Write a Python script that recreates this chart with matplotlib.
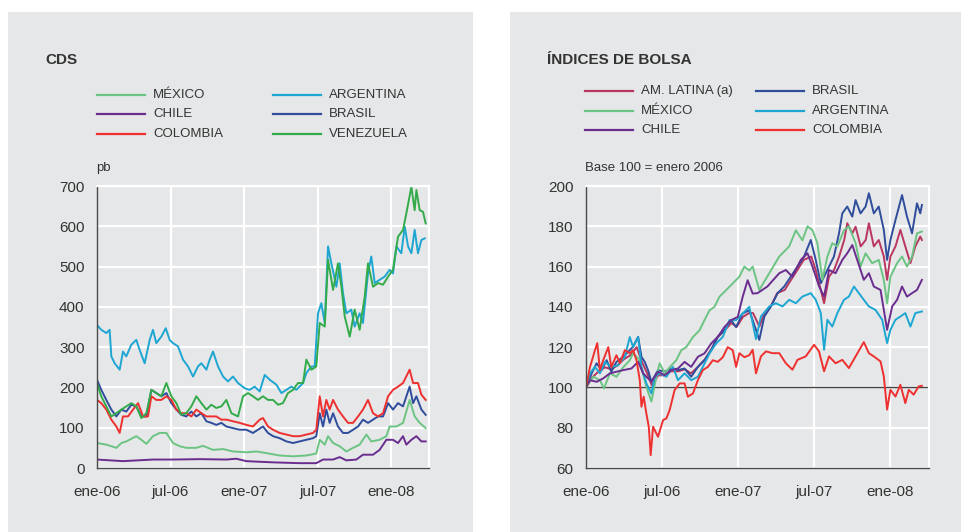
import matplotlib
matplotlib.use("Agg")
import matplotlib.pyplot as plt
from matplotlib.lines import Line2D
from matplotlib.patches import Rectangle

plt.rcParams['font.family'] = ['Liberation Sans', 'DejaVu Sans']

# ---- data (months since January 2006) ----
tick_months = [0, 6, 12, 18, 24]
tick_labels = ["ene-06", "jul-06", "ene-07", "jul-07", "ene-08"]

# CDS, pb
cds_arg_m = [0, 0.35, 0.76, 1.03, 1.17, 1.44, 1.85, 2.12, 2.39, 2.80, 3.21, 3.48, 3.89, 4.30, 4.57, 4.84,
             5.25, 5.61, 5.93, 6.20, 6.61, 7.02, 7.43, 7.84, 8.24, 8.52, 8.93, 9.20, 9.47, 9.88, 10.29,
             10.69, 11.10, 11.51, 12.05, 12.46, 12.87, 13.28, 13.69, 14.10, 14.64, 15.05, 15.46, 15.86,
             16.27, 16.82, 17.09, 17.50, 17.77, 18.04, 18.31, 18.59, 18.86, 19.13, 19.54, 19.81, 20.08,
             20.35, 20.76, 21.03, 21.44, 21.71, 22.12, 22.39, 22.67, 23.07, 23.48, 23.89, 24.16, 24.44,
             24.84, 25.12, 25.39, 25.66, 25.93, 26.20, 26.48, 26.75]
cds_arg = [355, 343, 335, 343, 277, 260, 244, 289, 277, 306, 318, 293, 260, 318, 343, 310,
           326, 347, 318, 310, 302, 269, 252, 227, 252, 260, 244, 269, 289, 252, 227,
           215, 227, 211, 198, 194, 202, 190, 231, 219, 207, 186, 194, 202,
           194, 211, 236, 252, 252, 384, 409, 360, 550, 508, 450, 508, 434,
           384, 393, 351, 384, 360, 483, 525, 459, 467, 475, 492, 483, 550,
           533, 599, 550, 533, 591, 533, 566, 570]

cds_ven_m = [0, 0.35, 0.76, 1.17, 1.58, 1.99, 2.39, 2.80, 3.21, 3.62, 4.03, 4.44, 4.84, 5.25, 5.66, 6.07,
             6.48, 6.88, 7.29, 7.70, 8.11, 8.52, 8.93, 9.33, 9.74, 10.15, 10.56, 10.97, 11.51, 11.92,
             12.33, 12.73, 13.14, 13.55, 13.96, 14.37, 14.78, 15.18, 15.59, 16.0, 16.41, 16.82, 17.09,
             17.50, 17.90, 18.18, 18.59, 18.86, 19.27, 19.67, 19.95, 20.22, 20.63, 21.03, 21.44, 21.85,
             22.12, 22.53, 22.94, 23.35, 23.76, 24.16, 24.57, 24.98, 25.25, 25.66, 25.93, 26.07, 26.34,
             26.61, 26.83]
cds_ven = [211, 178, 153, 128, 136, 145, 153, 161, 153, 124, 136, 194, 186, 178, 211, 178,
           161, 132, 136, 153, 178, 161, 145, 157, 149, 153, 169, 136, 128, 178,
           186, 178, 169, 178, 169, 169, 157, 161, 186, 194, 211, 211, 269,
           244, 252, 360, 351, 517, 442, 508, 450, 376, 326, 393, 343, 425,
           508, 450, 459, 455, 475, 492, 574, 591, 632, 698, 640, 690, 640,
           636, 607]

cds_bra_m = [0, 0.35, 0.76, 1.17, 1.58, 1.99, 2.39, 2.80, 3.21, 3.62, 4.03, 4.44, 4.84, 5.25, 5.66, 6.07,
             6.48, 6.88, 7.29, 7.70, 8.11, 8.52, 8.93, 9.33, 9.74, 10.15, 10.56, 11.10, 11.65, 12.19,
             12.73, 13.14, 13.55, 13.96, 14.37, 14.91, 15.46, 16.0, 16.54, 17.09, 17.63, 17.90, 18.18,
             18.45, 18.72, 18.99, 19.27, 19.67, 20.08, 20.49, 20.90, 21.31, 21.71, 22.12, 22.53, 22.94,
             23.35, 23.76, 24.16, 24.57, 24.98, 25.52, 25.80, 26.07, 26.48, 26.83]
cds_bra = [219, 194, 169, 145, 128, 145, 140, 157, 153, 128, 128, 194, 186, 178, 186, 161,
           145, 132, 128, 140, 128, 136, 116, 112, 107, 112, 103, 99, 95, 95,
           87, 95, 103, 87, 79, 74, 66, 62, 66, 70, 74, 79, 136,
           103, 145, 112, 136, 103, 87, 87, 95, 103, 120, 112, 120, 128,
           128, 161, 145, 161, 153, 202, 161, 178, 145, 132]

cds_col_m = [0, 0.35, 0.76, 1.17, 1.58, 1.85, 2.12, 2.53, 2.94, 3.35, 3.76, 4.16, 4.44, 4.84, 5.25, 5.66,
             6.07, 6.48, 6.88, 7.29, 7.70, 8.11, 8.52, 8.93, 9.33, 9.74, 10.15, 10.56, 11.10, 11.65,
             12.19, 12.73, 13.28, 13.55, 13.96, 14.37, 14.91, 15.46, 16.0, 16.54, 17.09, 17.63, 17.90,
             18.18, 18.45, 18.72, 18.99, 19.27, 19.67, 20.08, 20.49, 20.90, 21.31, 21.71, 22.12, 22.53,
             22.94, 23.35, 23.76, 24.16, 24.57, 24.98, 25.52, 25.80, 26.20, 26.48, 26.83]
cds_col = [169, 161, 145, 120, 103, 87, 128, 128, 145, 161, 128, 128, 178, 169, 169, 178,
           169, 145, 136, 136, 128, 145, 136, 128, 128, 128, 120, 120, 116, 112,
           107, 103, 120, 124, 103, 95, 87, 83, 79, 79, 83, 87, 95,
           178, 128, 169, 145, 169, 145, 128, 112, 112, 128, 145, 169, 136,
           128, 136, 178, 194, 202, 211, 244, 211, 211, 182, 169]

cds_mex_m = [0, 0.76, 1.58, 1.99, 2.39, 3.21, 3.62, 4.03, 4.57, 5.12, 5.66, 6.20, 6.75, 7.29, 8.11, 8.65,
             9.47, 10.29, 11.10, 12.19, 13.01, 13.82, 14.91, 16.0, 17.09, 17.90, 18.18, 18.59, 18.86,
             19.27, 19.81, 20.35, 20.90, 21.44, 21.99, 22.39, 23.07, 23.62, 23.89, 24.44, 24.98, 25.52,
             25.93, 26.34, 26.83]
cds_mex = [62, 58, 50, 62, 66, 79, 70, 60, 79, 87, 87, 62, 54, 50, 50, 55,
           45, 47, 41, 39, 41, 37, 31, 29, 31, 36, 70, 58, 79,
           62, 54, 41, 50, 58, 83, 66, 70, 79, 103, 103, 112, 169,
           128, 112, 99]

cds_chi_m = [0, 2.12, 4.57, 6.20, 8.38, 10.56, 11.37, 12.19, 14.37, 16.54, 17.90, 18.45, 19.27, 19.81,
             20.35, 21.17, 21.71, 22.53, 23.07, 23.62, 24.16, 24.57, 24.98, 25.25, 25.66, 26.07, 26.48,
             26.83]
cds_chi = [21, 17, 21, 21, 22, 21, 23, 17, 14, 12, 12, 21, 21, 27,
           19, 21, 33, 33, 45, 70, 70, 62, 79, 58, 70, 79, 66,
           66]

# Stock indices, base 100 = January 2006
bol_col_m = [0, 0.31, 0.71, 0.89, 1.1, 1.36, 1.76, 2.0, 2.4, 2.68, 3.07, 3.46, 3.72, 3.99, 4.25, 4.38,
             4.56, 4.77, 4.96, 5.11, 5.30, 5.69, 6.09, 6.35, 6.61, 7.0, 7.4, 7.79, 8.05, 8.45, 8.84,
             9.23, 9.63, 10.02, 10.41, 10.81, 11.2, 11.59, 11.86, 12.12, 12.51, 12.9, 13.17, 13.43,
             13.82, 14.22, 14.74, 15.27, 15.79, 16.31, 16.71, 17.36, 18.02, 18.41, 18.81, 19.2, 19.72,
             20.25, 20.77, 21.3, 21.95, 22.35, 22.74, 23.27, 23.53, 23.79, 24.05, 24.45, 24.84, 25.23,
             25.5, 25.89, 26.28, 26.54]
bol_col = [100, 110, 118.5, 122, 108.6, 113.5, 120, 110, 116, 112, 118.5, 117, 118.5, 113.5, 103.6, 90.4,
           95.4, 87, 80.5, 66.4, 80.5, 75.5, 83.8, 84.6, 88.8, 98.7, 102, 102, 95.4, 97, 103.6,
           108.6, 110.2, 113.5, 112.7, 115, 120, 118.5, 110.2, 117, 115, 116, 118.7, 107,
           115.4, 117.9, 117, 117, 112, 108.8, 113.7, 115.4, 121.2, 117.9, 108, 115.4, 112,
           113.7, 109.6, 115.4, 122.5, 117, 115.4, 112.9, 105.5, 89, 98.8, 95.5, 101.3, 92.2,
           98.8, 96.4, 100.5, 100.8]

bol_mex_m = [0, 0.58, 1.1, 1.42, 1.89, 2.41, 2.94, 3.46, 3.72, 4.12, 4.38, 4.77, 5.17, 5.56, 5.82, 6.22,
             6.61, 7.13, 7.53, 7.92, 8.45, 8.97, 9.36, 9.76, 10.15, 10.54, 11.07, 11.59, 12.12, 12.51,
             12.9, 13.17, 13.69, 14.48, 15.27, 16.05, 16.58, 17.1, 17.5, 17.9, 18.28, 18.68, 19.07,
             19.46, 19.86, 20.38, 20.77, 21.3, 21.69, 22.09, 22.61, 23.13, 23.53, 23.79, 24.05, 24.58,
             24.97, 25.36, 25.76, 26.15, 26.54]
bol_mex = [100, 105.3, 103.6, 99.5, 107, 105.3, 110, 113.5, 117, 114.4, 110, 100.3, 93, 105.3, 112, 107,
           110, 113.5, 118.5, 120, 125, 128.4, 133.4, 138.3, 140, 145, 148.3, 151.6, 155, 160,
           158, 160, 148.4, 156.7, 165, 170, 178, 173, 180, 178, 171.6, 153.4, 165,
           171.6, 170, 178, 180, 171.6, 160, 166.6, 161.7, 163.3, 153.4, 141.8, 155, 161.7,
           165, 160, 165, 176.5, 177.4]

bol_chi_m = [0, 0.31, 0.84, 1.36, 1.89, 2.41, 2.94, 3.59, 4.12, 4.51, 4.9, 5.17, 5.69, 6.22, 6.74, 7.27,
             7.79, 8.31, 8.84, 9.36, 9.89, 10.41, 10.94, 11.46, 11.99, 12.38, 12.77, 13.17, 13.55, 14.33,
             15.27, 15.79, 16.3, 16.97, 17.5, 17.89, 18.42, 18.81, 19.2, 19.72, 20.25, 20.64, 21.04,
             21.43, 21.95, 22.35, 22.74, 23.27, 23.79, 24.19, 24.58, 24.97, 25.36, 25.76, 26.15, 26.54]
bol_chi = [100, 103.6, 102.8, 104.5, 107, 107.8, 108.6, 109.4, 112.7, 107, 104.5, 102.8, 107.8, 106.1, 108.6, 109.4,
           112.7, 110.2, 115.2, 116.9, 121.8, 125.1, 130, 133.4, 135, 145, 153.2, 146.6, 146.8, 150.1,
           156.7, 158.3, 155, 163.3, 166.6, 160, 150.1, 145.1, 158.3, 156.7, 163.3, 166.6, 170.7,
           163.3, 153.4, 156.7, 150.1, 148.4, 128.6, 140.2, 143.5, 150.1, 145.1, 146.8, 148.4, 153.4]

bol_arg_m = [0, 0.31, 0.71, 1.1, 1.5, 2.0, 2.54, 3.07, 3.46, 3.72, 4.12, 4.38, 4.77, 5.17, 5.43, 5.82,
             6.35, 6.87, 7.27, 7.79, 8.31, 8.84, 9.23, 9.76, 10.28, 10.81, 11.33, 11.86, 12.38, 12.9,
             13.43, 13.82, 14.48, 15.0, 15.53, 16.05, 16.58, 17.1, 17.76, 18.15, 18.55, 18.81, 19.07,
             19.46, 19.86, 20.38, 20.77, 21.17, 21.56, 21.95, 22.35, 22.87, 23.4, 23.79, 24.05, 24.45,
             24.84, 25.23, 25.63, 26.02, 26.54]
bol_arg = [100, 107, 110.2, 107, 112.7, 110.2, 111, 115.2, 125, 120, 125, 110.2, 102, 97, 105.3, 107,
           105.3, 110.2, 103.6, 107, 103.6, 105.3, 110.2, 116.9, 121.8, 125.1, 133.4, 133.4, 136.7, 140,
           124, 135.2, 140.2, 141.8, 140.2, 143.5, 141.8, 145.1, 146.8, 143.5, 136.9, 118.7, 133.6,
           130.2, 136.9, 143.5, 145.1, 150.1, 146.8, 143.5, 140.2, 138.5, 133.6, 122, 128.6, 133.6,
           135.2, 136.9, 130.2, 136.9, 137.7]

bol_bra_m = [0, 0.45, 0.84, 1.23, 1.63, 2.0, 2.41, 2.94, 3.33, 3.72, 4.12, 4.38, 4.64, 4.9, 5.17, 5.69,
             6.22, 6.74, 7.27, 7.79, 8.31, 8.84, 9.36, 9.89, 10.41, 10.94, 11.46, 11.86, 12.38, 12.9,
             13.43, 13.69, 14.09, 14.61, 15.14, 15.66, 16.18, 16.71, 17.23, 17.76, 18.15, 18.55, 18.81,
             19.2, 19.59, 19.99, 20.25, 20.64, 21.04, 21.3, 21.69, 22.09, 22.35, 22.74, 23.13, 23.53,
             23.79, 24.05, 24.45, 24.97, 25.36, 25.76, 26.15, 26.41, 26.54]
bol_bra = [100, 107, 112, 108.6, 113.5, 107.8, 112.7, 115.2, 117.7, 120.2, 125.1, 115.2, 112.7, 108.6, 102.8, 108.6,
           107.8, 109.4, 108.6, 109.4, 105.3, 110.2, 113.5, 118.5, 125.1, 128.4, 133.4, 130, 136.7, 138.3,
           128.6, 123.6, 135.2, 140.2, 146.8, 150.1, 155, 160, 165, 173.2, 163.3, 151.7, 155,
           160, 165, 176.5, 186.4, 189.8, 184.8, 193, 186.4, 189.8, 196.4, 186.4, 189.8, 178.2,
           163.3, 173.2, 183.1, 195.5, 184.8, 176.5, 191.4, 186.4, 190.6]

bol_lat_m = [0, 0.5, 1.0, 1.5, 2.0, 2.5, 3.0, 3.5, 4.0, 4.4, 4.9, 5.2, 5.7, 6.2, 6.7, 7.3,
             7.8, 8.3, 8.8, 9.4, 9.9, 10.4, 10.9, 11.5, 11.9, 12.4, 12.9, 13.2, 13.7, 14.1, 14.6,
             15.1, 15.7, 16.2, 16.7, 17.2, 17.8, 18.15, 18.55, 18.81, 19.2, 19.6, 20.0, 20.4, 20.64,
             21.04, 21.3, 21.7, 22.1, 22.35, 22.74, 23.13, 23.53, 23.79, 24.05, 24.45, 24.84, 25.23,
             25.63, 26.02, 26.41, 26.54]
bol_lat = [100, 105, 108, 110, 109, 111, 114, 116, 120, 113, 106, 101, 106, 106, 108, 108,
           109, 107, 110, 114, 119, 125, 128, 132, 130, 135, 137, 136.9, 130.2, 136.9, 140.2,
           146.8, 148.4, 153.4, 158.3, 163.3, 165, 158.3, 148.4, 141.8, 155, 158.3, 165, 173.2, 181.5,
           176.5, 179.8, 170, 173.2, 181.5, 170, 173.2, 165, 153.4, 165, 170, 178.2, 170,
           161.7, 170, 174.9, 173.2]

# ---- colours ----
c_mex = "#6cc483"
c_arg = "#1ea6d2"
c_chi = "#6a2d8f"
c_bra = "#2f4d9c"
c_col = "#ee3030"
c_ven = "#34ab4a"
c_lat = "#b8365f"
bg = "#e6e7e8"
txt = "#333333"

W, H = 962, 532
fx = lambda x: x / W
fy = lambda y: 1 - y / H

fig = plt.figure(figsize=(W / 100, H / 100), dpi=100)
fig.patch.set_facecolor("white")
fig.patches.append(Rectangle((fx(8), 0), fx(473 - 8), 1 - 12 / H, transform=fig.transFigure,
                             facecolor=bg, edgecolor="none", zorder=-10))
fig.patches.append(Rectangle((fx(510), 0), fx(962 - 510), 1 - 12 / H, transform=fig.transFigure,
                             facecolor=bg, edgecolor="none", zorder=-10))

ax1 = fig.add_axes([fx(97), fy(468), fx(429 - 97), (468 - 186) / H])
ax2 = fig.add_axes([fx(586), fy(468), fx(929 - 586), (468 - 186) / H])


def style(ax, yticks):
    ax.set_zorder(2)
    ax.set_facecolor(bg)
    ax.set_xlim(0, 27.1)
    ax.set_ylim(yticks[0], yticks[-1])
    ax.set_yticks(yticks)
    ax.set_xticks(tick_months)
    ax.set_xticklabels(tick_labels)
    ax.grid(True, color="white", lw=1.6)
    ax.set_axisbelow(True)
    for s in ["top", "right"]:
        ax.spines[s].set_color("white")
        ax.spines[s].set_linewidth(1.6)
    for s in ["left", "bottom"]:
        ax.spines[s].set_color("#4a4a4a")
        ax.spines[s].set_linewidth(1.0)
    ax.tick_params(axis="both", length=0, labelsize=11, colors=txt)
    ax.tick_params(axis="y", pad=9)
    ax.tick_params(axis="x", pad=12)


style(ax1, list(range(0, 701, 100)))
style(ax2, list(range(60, 201, 20)))

lw = 1.4
ax1.plot(cds_chi_m, cds_chi, color=c_chi, lw=lw)
ax1.plot(cds_mex_m, cds_mex, color=c_mex, lw=lw)
ax1.plot(cds_bra_m, cds_bra, color=c_bra, lw=lw)
ax1.plot(cds_col_m, cds_col, color=c_col, lw=lw)
ax1.plot(cds_arg_m, cds_arg, color=c_arg, lw=lw)
ax1.plot(cds_ven_m, cds_ven, color=c_ven, lw=lw)

ax2.axhline(100, color="#444444", lw=1.0, zorder=1.5)
ax2.plot(bol_lat_m, bol_lat, color=c_lat, lw=lw)
ax2.plot(bol_bra_m, bol_bra, color=c_bra, lw=lw)
ax2.plot(bol_mex_m, bol_mex, color=c_mex, lw=lw)
ax2.plot(bol_arg_m, bol_arg, color=c_arg, lw=lw)
ax2.plot(bol_chi_m, bol_chi, color=c_chi, lw=lw)
ax2.plot(bol_col_m, bol_col, color=c_col, lw=lw)

# titles and notes
fig.text(fx(45), fy(60), "CDS", fontsize=11, fontweight="bold", color=txt, va="center")
fig.text(fx(547), fy(60), "ÍNDICES DE BOLSA", fontsize=11, fontweight="bold", color=txt, va="center")
fig.text(fx(96), fy(168), "pb", fontsize=9.5, color=txt, va="center")
fig.text(fx(585), fy(168), "Base 100 = enero 2006", fontsize=9.5, color=txt, va="center")


def legend_item(x0, y, color, label):
    fig.add_artist(Line2D([fx(x0), fx(x0 + 48)], [fy(y), fy(y)], transform=fig.transFigure,
                          color=color, lw=1.6))
    fig.text(fx(x0 + 56), fy(y), label, fontsize=9.5, color=txt, va="center")


legend_item(97, 95, c_mex, "MÉXICO")
legend_item(97, 114, c_chi, "CHILE")
legend_item(97, 134, c_col, "COLOMBIA")
legend_item(273, 95, c_arg, "ARGENTINA")
legend_item(273, 114, c_bra, "BRASIL")
legend_item(273, 134, c_ven, "VENEZUELA")

legend_item(585, 91, c_lat, "AM. LATINA (a)")
legend_item(585, 111, c_mex, "MÉXICO")
legend_item(585, 130, c_chi, "CHILE")
legend_item(756, 91, c_bra, "BRASIL")
legend_item(756, 111, c_arg, "ARGENTINA")
legend_item(756, 130, c_col, "COLOMBIA")

fig.savefig("out.png", dpi=100)
